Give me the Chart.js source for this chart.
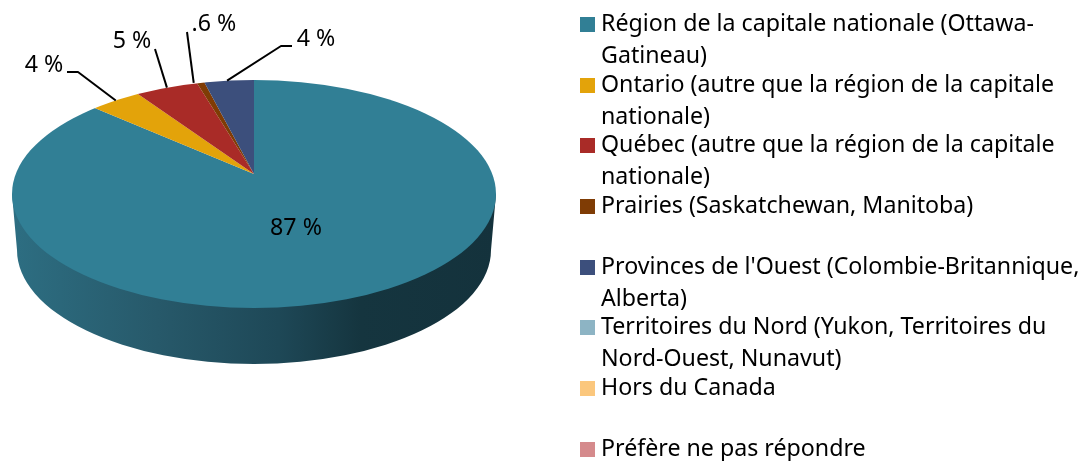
<!DOCTYPE html>
<html><head><meta charset="utf-8">
<style>html,body{margin:0;padding:0;background:#fff;overflow:hidden}canvas{display:block}</style>
<script src="https://cdn.jsdelivr.net/npm/chart.js@4"></script>
</head><body><canvas id="c" width="1083" height="461"></canvas>
<script>
const categories = [
  ["Région de la capitale nationale (Ottawa-","Gatineau)"],
  ["Ontario (autre que la région de la capitale","nationale)"],
  ["Québec (autre que la région de la capitale","nationale)"],
  ["Prairies (Saskatchewan, Manitoba)",""],
  ["Provinces de l'Ouest (Colombie-Britannique,","Alberta)"],
  ["Territoires du Nord (Yukon, Territoires du","Nord-Ouest, Nunavut)"],
  ["Hors du Canada",""],
  ["Préfère ne pas répondre"]
];
const values = [87, 4, 5, 0.6, 4, 0, 0, 0];
const valueLabels = ["87 %","4 %","5 %",".6 %","4 %","","",""];
const colors = ["#317F95","#E3A30A","#A92B27","#7F3C05","#3C4F7C","#8DB4C4","#FBC77D","#D58A8C"];

const FONT = "'Noto Sans', sans-serif", FS = 23.2;
const top3d = {cx:254, cy:194, rx:242, ry:114};
const bot3d = {cx:254, cy:250, rx:237, ry:114};
const apex = {x:254, y:174};
const yScale = top3d.ry / top3d.rx;
const legendPos = {left:588.7, top:16, bottom:640};
const callouts = {
  0:{lx:296, ly:228},
  1:{lx:44, ly:65, pts:[[67,72],[78,72]]},
  2:{lx:132, ly:41, pts:[[155,49]]},
  3:{lx:214, ly:24, pts:[[187,32]], nudge:-7},
  4:{lx:316, ly:39, pts:[[292,46],[281,46]], nudge:-2}
};

function swatch(color){
  const s = document.createElement('canvas');
  s.width = 15; s.height = 15;
  const x = s.getContext('2d');
  x.fillStyle = color; x.fillRect(0,0,15,15);
  return s;
}

function rimPoint(theta){
  const dx = Math.cos(theta), dy = Math.sin(theta)*yScale;
  const ox = apex.x-top3d.cx, oy = apex.y-top3d.cy;
  const A = dx*dx/(top3d.rx*top3d.rx)+dy*dy/(top3d.ry*top3d.ry);
  const B = 2*(ox*dx/(top3d.rx*top3d.rx)+oy*dy/(top3d.ry*top3d.ry));
  const C = ox*ox/(top3d.rx*top3d.rx)+oy*oy/(top3d.ry*top3d.ry)-1;
  const t = (-B+Math.sqrt(B*B-4*A*C))/(2*A);
  return [apex.x+dx*t, apex.y+dy*t];
}

const pie3d = {
  id:'pie3d',
  afterLayout(chart){
    const lg = chart.legend;
    lg.left = legendPos.left; lg.top = legendPos.top; lg.bottom = legendPos.bottom;
    lg.draw = function(){ this._draw(); };
  },
  beforeDatasetsDraw(chart){
    const ctx = chart.ctx, arc = chart.getDatasetMeta(0).data[0];
    ctx.save();
    const g = ctx.createLinearGradient(top3d.cx-top3d.rx,0,top3d.cx+top3d.rx,0);
    g.addColorStop(0,"#2D6E82"); g.addColorStop(0.3,"#27596A");
    g.addColorStop(0.55,"#1E4857"); g.addColorStop(0.72,"#15353F"); g.addColorStop(1,"#14323C");
    ctx.fillStyle = g;
    ctx.beginPath();
    ctx.moveTo(top3d.cx-top3d.rx, top3d.cy);
    ctx.lineTo(bot3d.cx-bot3d.rx, bot3d.cy);
    ctx.ellipse(bot3d.cx,bot3d.cy,bot3d.rx,bot3d.ry,0,Math.PI,0,true);
    ctx.lineTo(top3d.cx+top3d.rx, top3d.cy);
    ctx.closePath(); ctx.fill();
    ctx.beginPath();
    ctx.ellipse(top3d.cx,top3d.cy,top3d.rx,top3d.ry,0,0,Math.PI*2);
    ctx.clip();
    ctx.translate(apex.x,apex.y);
    ctx.scale(1,yScale);
    ctx.translate(-arc.x,-arc.y);
  },
  afterDatasetsDraw(chart){
    const ctx = chart.ctx, arcs = chart.getDatasetMeta(0).data;
    ctx.restore();
    ctx.save();
    ctx.strokeStyle="#000"; ctx.lineWidth=2; ctx.lineJoin='round';
    ctx.fillStyle="#000"; ctx.font=FS+"px "+FONT; ctx.textAlign='center'; ctx.textBaseline='middle';
    valueLabels.forEach((txt,i)=>{
      if(!txt) return;
      const c = callouts[i];
      ctx.fillText(txt,c.lx,c.ly);
      if(c.pts){
        const mid = (arcs[i].startAngle+arcs[i].endAngle)/2;
        const p = rimPoint(mid);
        ctx.beginPath();
        c.pts.forEach((q,k)=>k?ctx.lineTo(q[0],q[1]):ctx.moveTo(q[0],q[1]));
        ctx.lineTo(p[0]+(c.nudge||0),p[1]);
        ctx.stroke();
      }
    });
    ctx.restore();
  }
};

new Chart(document.getElementById('c'),{
  type:'pie',
  plugins:[pie3d],
  data:{labels:categories,datasets:[{data:values,backgroundColor:colors,borderWidth:0,radius:320,clip:false}]},
  options:{
    responsive:false,animation:false,
    plugins:{
      tooltip:{enabled:false},
      legend:{position:'right',align:'start',
        labels:{usePointStyle:true,pointStyleWidth:4,boxHeight:15,padding:-3.3,color:"#000",
          font:{family:FONT,size:FS,lineHeight:32/FS},
          generateLabels(chart){
            return Chart.overrides.pie.plugins.legend.labels.generateLabels(chart)
              .map((it,i)=>Object.assign(it,{pointStyle:swatch(colors[i])}));
          }}}
    }
  }
});
</script></body></html>
